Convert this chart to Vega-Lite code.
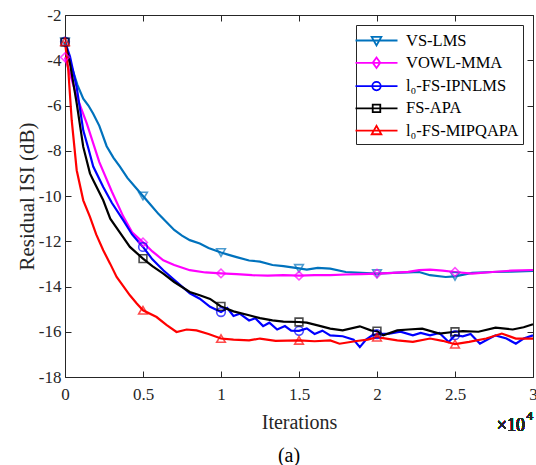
{
  "$schema": "https://vega.github.io/schema/vega-lite/v6.json",
  "width": 468,
  "height": 362,
  "autosize": {"type": "none"},
  "padding": {"left": 65, "top": 15, "right": 3, "bottom": 88},
  "title": {"text": "(a)", "orient": "bottom", "anchor": "middle", "font": "Liberation Serif", "fontSize": 20, "fontWeight": "normal", "color": "#000000", "offset": 11, "dx": -10},
  "data": {"values": [
    {"s": "VS-LMS", "x": 0, "y": -3.2, "m": 1},
    {"s": "VS-LMS", "x": 0.02, "y": -3.9},
    {"s": "VS-LMS", "x": 0.05, "y": -4.45},
    {"s": "VS-LMS", "x": 0.08, "y": -5.1},
    {"s": "VS-LMS", "x": 0.117, "y": -5.7},
    {"s": "VS-LMS", "x": 0.15, "y": -6.0},
    {"s": "VS-LMS", "x": 0.18, "y": -6.35},
    {"s": "VS-LMS", "x": 0.22, "y": -6.9},
    {"s": "VS-LMS", "x": 0.267, "y": -7.8},
    {"s": "VS-LMS", "x": 0.31, "y": -8.3},
    {"s": "VS-LMS", "x": 0.352, "y": -8.7},
    {"s": "VS-LMS", "x": 0.4, "y": -9.2},
    {"s": "VS-LMS", "x": 0.45, "y": -9.6},
    {"s": "VS-LMS", "x": 0.5, "y": -10.0, "m": 1},
    {"s": "VS-LMS", "x": 0.55, "y": -10.4},
    {"s": "VS-LMS", "x": 0.6, "y": -10.8},
    {"s": "VS-LMS", "x": 0.65, "y": -11.15},
    {"s": "VS-LMS", "x": 0.7, "y": -11.5},
    {"s": "VS-LMS", "x": 0.75, "y": -11.75},
    {"s": "VS-LMS", "x": 0.8, "y": -11.95},
    {"s": "VS-LMS", "x": 0.864, "y": -12.1},
    {"s": "VS-LMS", "x": 0.92, "y": -12.3},
    {"s": "VS-LMS", "x": 1.0, "y": -12.5, "m": 1},
    {"s": "VS-LMS", "x": 1.05, "y": -12.6},
    {"s": "VS-LMS", "x": 1.1, "y": -12.7},
    {"s": "VS-LMS", "x": 1.18, "y": -12.85},
    {"s": "VS-LMS", "x": 1.25, "y": -12.9},
    {"s": "VS-LMS", "x": 1.33, "y": -13.05},
    {"s": "VS-LMS", "x": 1.4, "y": -13.1},
    {"s": "VS-LMS", "x": 1.5, "y": -13.2, "m": 1},
    {"s": "VS-LMS", "x": 1.55, "y": -13.25},
    {"s": "VS-LMS", "x": 1.62, "y": -13.18},
    {"s": "VS-LMS", "x": 1.7, "y": -13.21},
    {"s": "VS-LMS", "x": 1.8, "y": -13.36},
    {"s": "VS-LMS", "x": 1.9, "y": -13.4},
    {"s": "VS-LMS", "x": 2.0, "y": -13.43, "m": 1},
    {"s": "VS-LMS", "x": 2.1, "y": -13.4},
    {"s": "VS-LMS", "x": 2.2, "y": -13.38},
    {"s": "VS-LMS", "x": 2.27, "y": -13.36},
    {"s": "VS-LMS", "x": 2.34, "y": -13.5},
    {"s": "VS-LMS", "x": 2.44, "y": -13.58},
    {"s": "VS-LMS", "x": 2.5, "y": -13.55, "m": 1},
    {"s": "VS-LMS", "x": 2.61, "y": -13.4},
    {"s": "VS-LMS", "x": 2.74, "y": -13.36},
    {"s": "VS-LMS", "x": 2.86, "y": -13.34},
    {"s": "VS-LMS", "x": 3.0, "y": -13.31},

    {"s": "VOWL-MMA", "x": 0, "y": -3.87, "m": 1},
    {"s": "VOWL-MMA", "x": 0.03, "y": -4.55},
    {"s": "VOWL-MMA", "x": 0.075, "y": -5.6},
    {"s": "VOWL-MMA", "x": 0.14, "y": -6.8},
    {"s": "VOWL-MMA", "x": 0.22, "y": -8.5},
    {"s": "VOWL-MMA", "x": 0.3, "y": -9.8},
    {"s": "VOWL-MMA", "x": 0.373, "y": -10.9},
    {"s": "VOWL-MMA", "x": 0.43, "y": -11.6},
    {"s": "VOWL-MMA", "x": 0.5, "y": -12.05, "m": 1},
    {"s": "VOWL-MMA", "x": 0.56, "y": -12.45},
    {"s": "VOWL-MMA", "x": 0.63, "y": -12.84},
    {"s": "VOWL-MMA", "x": 0.7, "y": -13.05},
    {"s": "VOWL-MMA", "x": 0.8, "y": -13.28},
    {"s": "VOWL-MMA", "x": 0.9, "y": -13.38},
    {"s": "VOWL-MMA", "x": 1.0, "y": -13.42, "m": 1},
    {"s": "VOWL-MMA", "x": 1.1, "y": -13.45},
    {"s": "VOWL-MMA", "x": 1.2, "y": -13.5},
    {"s": "VOWL-MMA", "x": 1.3, "y": -13.52},
    {"s": "VOWL-MMA", "x": 1.4, "y": -13.5},
    {"s": "VOWL-MMA", "x": 1.5, "y": -13.52, "m": 1},
    {"s": "VOWL-MMA", "x": 1.6, "y": -13.5},
    {"s": "VOWL-MMA", "x": 1.7, "y": -13.5},
    {"s": "VOWL-MMA", "x": 1.8, "y": -13.47},
    {"s": "VOWL-MMA", "x": 1.9, "y": -13.45},
    {"s": "VOWL-MMA", "x": 2.0, "y": -13.43, "m": 1},
    {"s": "VOWL-MMA", "x": 2.1, "y": -13.4},
    {"s": "VOWL-MMA", "x": 2.2, "y": -13.35},
    {"s": "VOWL-MMA", "x": 2.27, "y": -13.28},
    {"s": "VOWL-MMA", "x": 2.34, "y": -13.25},
    {"s": "VOWL-MMA", "x": 2.42, "y": -13.3},
    {"s": "VOWL-MMA", "x": 2.5, "y": -13.36, "m": 1},
    {"s": "VOWL-MMA", "x": 2.61, "y": -13.43},
    {"s": "VOWL-MMA", "x": 2.74, "y": -13.36},
    {"s": "VOWL-MMA", "x": 2.86, "y": -13.3},
    {"s": "VOWL-MMA", "x": 3.0, "y": -13.27},

    {"s": "l₀-FS-IPNLMS", "x": 0, "y": -3.18, "m": 1},
    {"s": "l₀-FS-IPNLMS", "x": 0.032, "y": -3.84},
    {"s": "l₀-FS-IPNLMS", "x": 0.075, "y": -5.2},
    {"s": "l₀-FS-IPNLMS", "x": 0.117, "y": -7.1},
    {"s": "l₀-FS-IPNLMS", "x": 0.15, "y": -7.9},
    {"s": "l₀-FS-IPNLMS", "x": 0.181, "y": -8.7},
    {"s": "l₀-FS-IPNLMS", "x": 0.245, "y": -9.6},
    {"s": "l₀-FS-IPNLMS", "x": 0.3, "y": -10.3},
    {"s": "l₀-FS-IPNLMS", "x": 0.373, "y": -11.07},
    {"s": "l₀-FS-IPNLMS", "x": 0.43, "y": -11.7},
    {"s": "l₀-FS-IPNLMS", "x": 0.5, "y": -12.25, "m": 1},
    {"s": "l₀-FS-IPNLMS", "x": 0.56, "y": -12.8},
    {"s": "l₀-FS-IPNLMS", "x": 0.63, "y": -13.28},
    {"s": "l₀-FS-IPNLMS", "x": 0.7, "y": -13.7},
    {"s": "l₀-FS-IPNLMS", "x": 0.8, "y": -14.3},
    {"s": "l₀-FS-IPNLMS", "x": 0.864, "y": -14.54},
    {"s": "l₀-FS-IPNLMS", "x": 0.93, "y": -14.9},
    {"s": "l₀-FS-IPNLMS", "x": 1.0, "y": -15.13, "m": 1},
    {"s": "l₀-FS-IPNLMS", "x": 1.04, "y": -14.95},
    {"s": "l₀-FS-IPNLMS", "x": 1.08, "y": -15.3},
    {"s": "l₀-FS-IPNLMS", "x": 1.12, "y": -15.2},
    {"s": "l₀-FS-IPNLMS", "x": 1.18, "y": -15.5},
    {"s": "l₀-FS-IPNLMS", "x": 1.22, "y": -15.4},
    {"s": "l₀-FS-IPNLMS", "x": 1.27, "y": -15.75},
    {"s": "l₀-FS-IPNLMS", "x": 1.31, "y": -15.6},
    {"s": "l₀-FS-IPNLMS", "x": 1.36, "y": -15.9},
    {"s": "l₀-FS-IPNLMS", "x": 1.41, "y": -15.75},
    {"s": "l₀-FS-IPNLMS", "x": 1.45, "y": -15.95},
    {"s": "l₀-FS-IPNLMS", "x": 1.5, "y": -15.96, "m": 1},
    {"s": "l₀-FS-IPNLMS", "x": 1.55, "y": -15.85},
    {"s": "l₀-FS-IPNLMS", "x": 1.6, "y": -16.1},
    {"s": "l₀-FS-IPNLMS", "x": 1.65, "y": -15.95},
    {"s": "l₀-FS-IPNLMS", "x": 1.7, "y": -16.16},
    {"s": "l₀-FS-IPNLMS", "x": 1.78, "y": -16.2},
    {"s": "l₀-FS-IPNLMS", "x": 1.85, "y": -16.35},
    {"s": "l₀-FS-IPNLMS", "x": 1.89, "y": -16.68},
    {"s": "l₀-FS-IPNLMS", "x": 1.93, "y": -16.35},
    {"s": "l₀-FS-IPNLMS", "x": 1.97, "y": -16.16},
    {"s": "l₀-FS-IPNLMS", "x": 2.0, "y": -16.1, "m": 1},
    {"s": "l₀-FS-IPNLMS", "x": 2.08, "y": -16.08},
    {"s": "l₀-FS-IPNLMS", "x": 2.15, "y": -16.0},
    {"s": "l₀-FS-IPNLMS", "x": 2.23, "y": -16.16},
    {"s": "l₀-FS-IPNLMS", "x": 2.28, "y": -16.05},
    {"s": "l₀-FS-IPNLMS", "x": 2.34, "y": -16.16},
    {"s": "l₀-FS-IPNLMS", "x": 2.4, "y": -16.05},
    {"s": "l₀-FS-IPNLMS", "x": 2.46, "y": -16.45},
    {"s": "l₀-FS-IPNLMS", "x": 2.5, "y": -16.15, "m": 1},
    {"s": "l₀-FS-IPNLMS", "x": 2.55, "y": -16.2},
    {"s": "l₀-FS-IPNLMS", "x": 2.6, "y": -16.1},
    {"s": "l₀-FS-IPNLMS", "x": 2.66, "y": -16.53},
    {"s": "l₀-FS-IPNLMS", "x": 2.72, "y": -16.3},
    {"s": "l₀-FS-IPNLMS", "x": 2.76, "y": -16.16},
    {"s": "l₀-FS-IPNLMS", "x": 2.83, "y": -16.3},
    {"s": "l₀-FS-IPNLMS", "x": 2.89, "y": -16.53},
    {"s": "l₀-FS-IPNLMS", "x": 2.94, "y": -16.3},
    {"s": "l₀-FS-IPNLMS", "x": 3.0, "y": -16.16},

    {"s": "FS-APA", "x": 0, "y": -3.2, "m": 1},
    {"s": "FS-APA", "x": 0.032, "y": -4.14},
    {"s": "FS-APA", "x": 0.075, "y": -5.9},
    {"s": "FS-APA", "x": 0.117, "y": -7.83},
    {"s": "FS-APA", "x": 0.16, "y": -9.0},
    {"s": "FS-APA", "x": 0.181, "y": -9.3},
    {"s": "FS-APA", "x": 0.245, "y": -10.19},
    {"s": "FS-APA", "x": 0.29, "y": -11.0},
    {"s": "FS-APA", "x": 0.35, "y": -11.6},
    {"s": "FS-APA", "x": 0.416, "y": -12.25},
    {"s": "FS-APA", "x": 0.5, "y": -12.77, "m": 1},
    {"s": "FS-APA", "x": 0.56, "y": -13.1},
    {"s": "FS-APA", "x": 0.63, "y": -13.43},
    {"s": "FS-APA", "x": 0.7, "y": -13.8},
    {"s": "FS-APA", "x": 0.8, "y": -14.24},
    {"s": "FS-APA", "x": 0.864, "y": -14.39},
    {"s": "FS-APA", "x": 0.93, "y": -14.55},
    {"s": "FS-APA", "x": 1.0, "y": -14.88, "m": 1},
    {"s": "FS-APA", "x": 1.08, "y": -15.1},
    {"s": "FS-APA", "x": 1.18, "y": -15.27},
    {"s": "FS-APA", "x": 1.25, "y": -15.4},
    {"s": "FS-APA", "x": 1.33, "y": -15.5},
    {"s": "FS-APA", "x": 1.4, "y": -15.55},
    {"s": "FS-APA", "x": 1.5, "y": -15.57, "m": 1},
    {"s": "FS-APA", "x": 1.55, "y": -15.6},
    {"s": "FS-APA", "x": 1.62, "y": -15.72},
    {"s": "FS-APA", "x": 1.7, "y": -15.86},
    {"s": "FS-APA", "x": 1.78, "y": -15.94},
    {"s": "FS-APA", "x": 1.89, "y": -15.76},
    {"s": "FS-APA", "x": 1.96, "y": -15.94},
    {"s": "FS-APA", "x": 2.0, "y": -15.97, "m": 1},
    {"s": "FS-APA", "x": 2.04, "y": -16.16},
    {"s": "FS-APA", "x": 2.13, "y": -15.94},
    {"s": "FS-APA", "x": 2.2, "y": -15.9},
    {"s": "FS-APA", "x": 2.29, "y": -15.86},
    {"s": "FS-APA", "x": 2.4, "y": -16.08},
    {"s": "FS-APA", "x": 2.5, "y": -16.0, "m": 1},
    {"s": "FS-APA", "x": 2.55, "y": -15.97},
    {"s": "FS-APA", "x": 2.65, "y": -16.0},
    {"s": "FS-APA", "x": 2.76, "y": -15.82},
    {"s": "FS-APA", "x": 2.87, "y": -15.9},
    {"s": "FS-APA", "x": 2.94, "y": -15.8},
    {"s": "FS-APA", "x": 3.0, "y": -15.67},

    {"s": "l₀-FS-MIPQAPA", "x": 0, "y": -3.18, "m": 1},
    {"s": "l₀-FS-MIPQAPA", "x": 0.021, "y": -4.43},
    {"s": "l₀-FS-MIPQAPA", "x": 0.043, "y": -6.65},
    {"s": "l₀-FS-MIPQAPA", "x": 0.075, "y": -8.86},
    {"s": "l₀-FS-MIPQAPA", "x": 0.117, "y": -10.19},
    {"s": "l₀-FS-MIPQAPA", "x": 0.16, "y": -10.92},
    {"s": "l₀-FS-MIPQAPA", "x": 0.2, "y": -11.7},
    {"s": "l₀-FS-MIPQAPA", "x": 0.245, "y": -12.4},
    {"s": "l₀-FS-MIPQAPA", "x": 0.29, "y": -13.0},
    {"s": "l₀-FS-MIPQAPA", "x": 0.331, "y": -13.58},
    {"s": "l₀-FS-MIPQAPA", "x": 0.37, "y": -13.95},
    {"s": "l₀-FS-MIPQAPA", "x": 0.416, "y": -14.39},
    {"s": "l₀-FS-MIPQAPA", "x": 0.46, "y": -14.75},
    {"s": "l₀-FS-MIPQAPA", "x": 0.5, "y": -15.05, "m": 1},
    {"s": "l₀-FS-MIPQAPA", "x": 0.587, "y": -15.35},
    {"s": "l₀-FS-MIPQAPA", "x": 0.65, "y": -15.7},
    {"s": "l₀-FS-MIPQAPA", "x": 0.715, "y": -16.01},
    {"s": "l₀-FS-MIPQAPA", "x": 0.78, "y": -15.9},
    {"s": "l₀-FS-MIPQAPA", "x": 0.843, "y": -15.94},
    {"s": "l₀-FS-MIPQAPA", "x": 0.92, "y": -16.1},
    {"s": "l₀-FS-MIPQAPA", "x": 1.0, "y": -16.3, "m": 1},
    {"s": "l₀-FS-MIPQAPA", "x": 1.08, "y": -16.35},
    {"s": "l₀-FS-MIPQAPA", "x": 1.18, "y": -16.38},
    {"s": "l₀-FS-MIPQAPA", "x": 1.25, "y": -16.3},
    {"s": "l₀-FS-MIPQAPA", "x": 1.35, "y": -16.4},
    {"s": "l₀-FS-MIPQAPA", "x": 1.5, "y": -16.38, "m": 1},
    {"s": "l₀-FS-MIPQAPA", "x": 1.6, "y": -16.42},
    {"s": "l₀-FS-MIPQAPA", "x": 1.7, "y": -16.38},
    {"s": "l₀-FS-MIPQAPA", "x": 1.76, "y": -16.53},
    {"s": "l₀-FS-MIPQAPA", "x": 1.87, "y": -16.41},
    {"s": "l₀-FS-MIPQAPA", "x": 1.94, "y": -16.35},
    {"s": "l₀-FS-MIPQAPA", "x": 2.0, "y": -16.24, "m": 1},
    {"s": "l₀-FS-MIPQAPA", "x": 2.13, "y": -16.38},
    {"s": "l₀-FS-MIPQAPA", "x": 2.23, "y": -16.45},
    {"s": "l₀-FS-MIPQAPA", "x": 2.34, "y": -16.3},
    {"s": "l₀-FS-MIPQAPA", "x": 2.42, "y": -16.4},
    {"s": "l₀-FS-MIPQAPA", "x": 2.5, "y": -16.55, "m": 1},
    {"s": "l₀-FS-MIPQAPA", "x": 2.59, "y": -16.45},
    {"s": "l₀-FS-MIPQAPA", "x": 2.7, "y": -16.3},
    {"s": "l₀-FS-MIPQAPA", "x": 2.8, "y": -16.08},
    {"s": "l₀-FS-MIPQAPA", "x": 2.89, "y": -16.3},
    {"s": "l₀-FS-MIPQAPA", "x": 3.0, "y": -16.3}
  ]},
  "layer": [
    {
      "mark": {"type": "line", "strokeWidth": 2.2},
      "encoding": {
        "x": {"field": "x", "type": "quantitative", "scale": {"domain": [0, 3], "nice": false, "zero": false},
          "axis": {"orient": "bottom", "values": [0, 0.5, 1, 1.5, 2, 2.5, 3], "labelExpr": "'' + datum.value", "title": "Iterations", "titlePadding": 10, "labelPadding": 15}},
        "y": {"field": "y", "type": "quantitative", "scale": {"domain": [-18, -2], "nice": false, "zero": false},
          "axis": {"orient": "left", "values": [-18, -16, -14, -12, -10, -8, -6, -4, -2], "labelExpr": "'' + datum.value", "title": "Residual ISI (dB)", "titlePadding": 1, "titleFontSize": 21}},
        "color": {"field": "s", "type": "nominal",
          "scale": {"domain": ["VS-LMS", "VOWL-MMA", "l₀-FS-IPNLMS", "FS-APA", "l₀-FS-MIPQAPA"], "range": ["#0072BD", "#FF00FF", "#0000FF", "#000000", "#FF0000"]}}
      }
    },
    {
      "transform": [{"filter": "datum.m == 1 && datum.s == 'VS-LMS'"}],
      "mark": {"type": "point", "filled": false, "strokeWidth": 1.6, "size": 75, "shape": "triangle-down", "color": "#0072BD"},
      "encoding": {
        "x": {"field": "x", "type": "quantitative",
          "axis": {"orient": "top", "values": [0, 0.5, 1, 1.5, 2, 2.5, 3], "labels": false, "title": null}},
        "y": {"field": "y", "type": "quantitative",
          "axis": {"orient": "right", "values": [-18, -16, -14, -12, -10, -8, -6, -4, -2], "labels": false, "title": null}}
      }
    },
    {
      "transform": [{"filter": "datum.m == 1 && datum.s == 'VOWL-MMA'"}],
      "mark": {"type": "point", "filled": false, "strokeWidth": 1.6, "size": 75, "shape": "diamond", "color": "#FF00FF"},
      "encoding": {"x": {"field": "x", "type": "quantitative", "axis": null}, "y": {"field": "y", "type": "quantitative", "axis": null}}
    },
    {
      "transform": [{"filter": "datum.m == 1 && datum.s == 'l₀-FS-IPNLMS'"}],
      "mark": {"type": "point", "filled": false, "strokeWidth": 1.6, "size": 75, "shape": "circle", "color": "#0000FF"},
      "encoding": {"x": {"field": "x", "type": "quantitative", "axis": null}, "y": {"field": "y", "type": "quantitative", "axis": null}}
    },
    {
      "transform": [{"filter": "datum.m == 1 && datum.s == 'FS-APA'"}],
      "mark": {"type": "point", "filled": false, "strokeWidth": 1.6, "size": 60, "shape": "square", "color": "#000000"},
      "encoding": {"x": {"field": "x", "type": "quantitative", "axis": null}, "y": {"field": "y", "type": "quantitative", "axis": null}}
    },
    {
      "transform": [{"filter": "datum.m == 1 && datum.s == 'l₀-FS-MIPQAPA'"}],
      "mark": {"type": "point", "filled": false, "strokeWidth": 1.6, "size": 75, "shape": "triangle-up", "color": "#FF0000"},
      "encoding": {"x": {"field": "x", "type": "quantitative", "axis": null}, "y": {"field": "y", "type": "quantitative", "axis": null}}
    },
    {
      "transform": [{"filter": "datum.m == 1 && datum.x == 0"}],
      "mark": {"type": "point", "filled": false, "strokeWidth": 1.8, "size": 441, "opacity": 0},
      "encoding": {
        "x": {"field": "x", "type": "quantitative", "axis": null},
        "y": {"field": "y", "type": "quantitative", "axis": null},
        "color": {"field": "s", "type": "nominal"},
        "shape": {"field": "s", "type": "nominal",
          "scale": {"domain": ["VS-LMS", "VOWL-MMA", "l₀-FS-IPNLMS", "FS-APA", "l₀-FS-MIPQAPA"],
            "range": ["M-2,0H2M-0.46,-0.34L0.46,-0.34L0,0.46Z", "M-2,0H2M0,-0.5L0.36,0L0,0.5L-0.36,0Z", "M-2,0H2M-0.4,0A0.4,0.4,0,1,0,0.4,0A0.4,0.4,0,1,0,-0.4,0", "M-2,0H2M-0.36,-0.36H0.36V0.36H-0.36Z", "M-2,0H2M-0.46,0.34L0.46,0.34L0,-0.46Z"]}}
      }
    },
    {
      "mark": {"type": "text", "align": "right", "baseline": "alphabetic", "font": "Liberation Serif", "fontSize": 18, "color": "#262626", "dx": -8, "dy": 54, "text": "×10"},
      "encoding": {"x": {"datum": 3, "type": "quantitative", "axis": null}, "y": {"datum": -18, "type": "quantitative", "axis": null}}
    },
    {
      "mark": {"type": "text", "align": "right", "baseline": "alphabetic", "font": "Liberation Serif", "fontSize": 13, "color": "#262626", "dx": 0, "dy": 43, "text": "4"},
      "encoding": {"x": {"datum": 3, "type": "quantitative", "axis": null}, "y": {"datum": -18, "type": "quantitative", "axis": null}}
    }
  ],
  "resolve": {"axis": {"x": "independent", "y": "independent"}},
  "config": {
    "view": {"stroke": null},
    "font": "Liberation Serif",
    "legend": {
      "title": null, "orient": "top-right", "offset": 10, "padding": 4,
      "strokeColor": "#262626", "fillColor": "#FFFFFF",
      "labelFont": "Liberation Serif", "labelFontSize": 16.5, "labelColor": "#000000",
      "symbolSize": 441, "symbolOffset": 5, "labelOffset": 18, "rowPadding": 2.3,
      "symbolStrokeWidth": 1.8, "symbolOpacity": 1
    },
    "axis": {
      "grid": false, "domainColor": "#262626", "domainWidth": 1, "tickColor": "#262626", "tickWidth": 1,
      "tickSize": -6, "labelPadding": 14, "labelFont": "Liberation Serif", "labelFontSize": 17, "labelColor": "#262626",
      "labelFlush": false, "labelOverlap": false, "labelBound": false,
      "titleFont": "Liberation Serif", "titleFontSize": 20, "titleFontWeight": "normal", "titleColor": "#262626"
    },
    "axisY": {"labelPadding": 10}
  }
}
